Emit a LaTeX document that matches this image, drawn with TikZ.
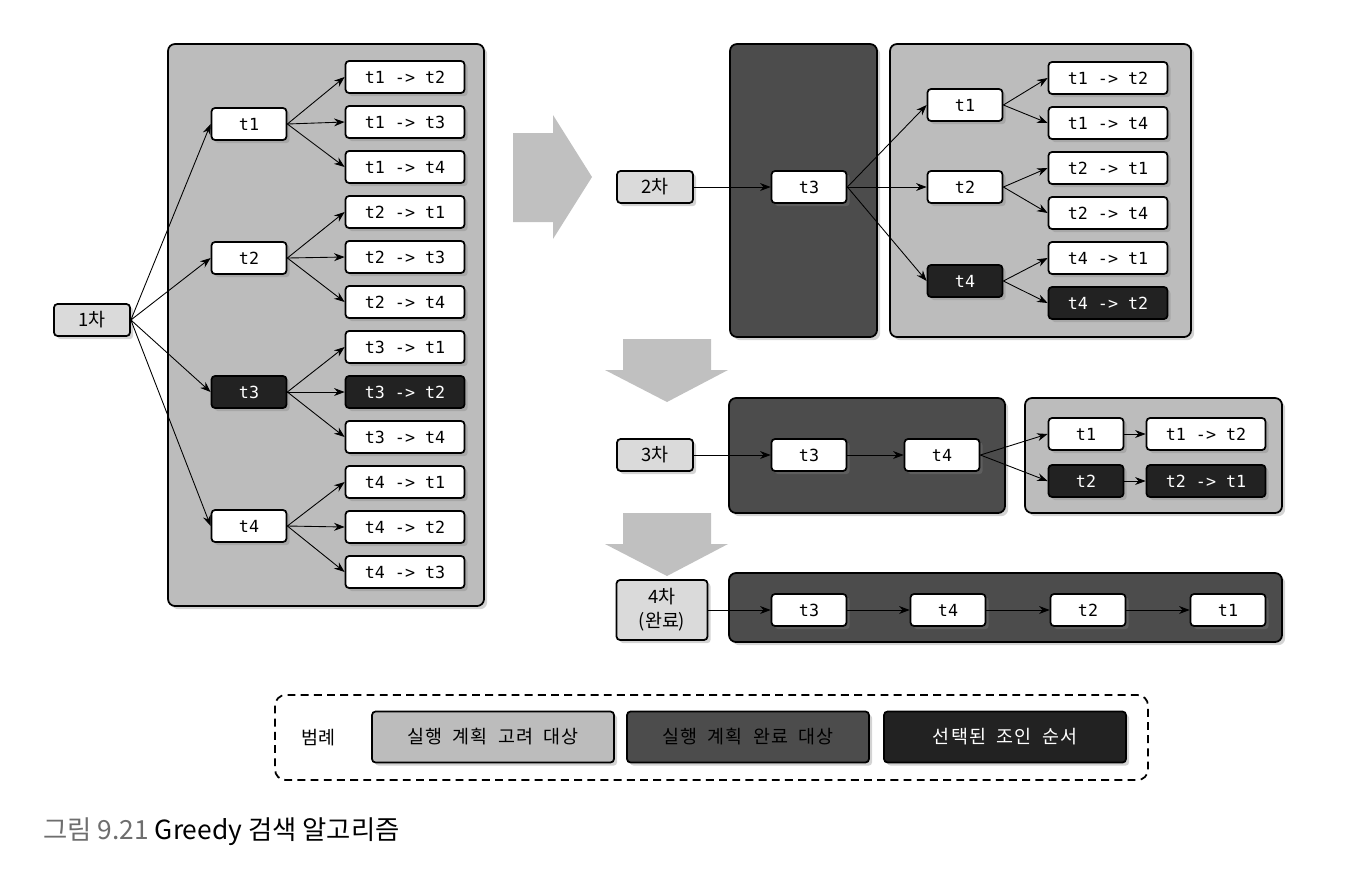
\documentclass[tikz,border=0pt]{standalone}
\usepackage{fontspec}
\setmainfont{Noto Sans CJK KR}
\setmonofont{DejaVu Sans Mono}
\newfontfamily\legendfont[LetterSpace=6,WordSpace=2]{Noto Sans CJK KR}
\usepackage{tikz}
\usetikzlibrary{arrows.meta,positioning,shadows}
\definecolor{consider}{RGB}{188,188,188}
\definecolor{done}{RGB}{76,76,76}
\definecolor{chosen}{RGB}{34,34,34}
\definecolor{stagefill}{RGB}{218,218,218}
\definecolor{bigarrow}{RGB}{192,192,192}
\definecolor{capgray}{RGB}{110,110,110}

\begin{document}
\begin{tikzpicture}[x=0.02cm,y=-0.02cm,font=\fontsize{10.5}{12}\selectfont,
  soft shadow/.style={drop shadow={shadow xshift=1.8pt,shadow yshift=-1.8pt,opacity=0.35}},
  panel/.style={draw=black,line width=1pt,rounded corners=4pt,soft shadow},
  tbox/.style={draw=black,line width=1pt,fill=white,rounded corners=2pt,inner sep=0pt,minimum width=1.5cm,minimum height=0.64cm,font=\ttfamily\fontsize{9.5}{11}\selectfont,soft shadow},
  leaf/.style={tbox,minimum width=2.38cm},
  stagebox/.style={tbox,fill=stagefill,minimum width=1.52cm,font=\fontsize{10.5}{13.5}\selectfont,align=center},
  legendbox/.style={tbox,minimum width=4.84cm,minimum height=1.02cm,font=\legendfont\fontsize{10.5}{12}\selectfont},
  link/.style={-{Stealth[length=6pt,width=4.5pt]},line width=0.5pt}]
\useasboundingbox (0,0) rectangle (1354,890);

\draw[panel,fill=consider] (168,44) rectangle (484,606);
\draw[panel,fill=done] (730,44) rectangle (877,337);
\draw[panel,fill=consider] (890,44) rectangle (1191,337);
\draw[panel,fill=done] (729,398) rectangle (1005,513);
\draw[panel,fill=consider] (1025,398) rectangle (1282,513);
\draw[panel,fill=done] (729,573) rectangle (1282,642);

\fill[bigarrow] (513,133) -- (553,133) -- (553,115) -- (592,177) -- (553,239) -- (553,222) -- (513,222) -- cycle;
\foreach \y in {339,513}
  \fill[bigarrow] (623,\y) -- (711,\y) -- (711,\y+31) -- (728,\y+31) -- (667,\y+63) -- (605,\y+31) -- (623,\y+31) -- cycle;

\node[stagebox] (s1) at (92,320) {1차};
\foreach \a/\y/\f/\t in {1/124/white/black,2/258/white/black,3/392/chosen/white,4/526/white/black}{
  \node[tbox,fill=\f,text=\t] (p\a) at (249,\y) {t\a};
  \draw[link] (s1.east) -- (p\a.west);
}
\foreach \a/\b/\y/\f/\t in {1/2/77/white/black,1/3/122/white/black,1/4/167/white/black,
    2/1/212/white/black,2/3/257/white/black,2/4/302/white/black,
    3/1/347/white/black,3/2/392/chosen/white,3/4/437/white/black,
    4/1/482/white/black,4/2/527/white/black,4/3/572/white/black}{
  \node[leaf,fill=\f,text=\t] (p\a\b) at (405,\y) {t\a{} -> t\b};
  \draw[link] (p\a.east) -- (p\a\b.west);
}

\node[stagebox] (s2) at (655,187) {2차};
\node[tbox] (q3) at (809,187) {t3};
\draw[link] (s2) -- (q3);
\foreach \a/\y/\f/\t in {1/105/white/black,2/187/white/black,4/281/chosen/white}{
  \node[tbox,fill=\f,text=\t] (q\a) at (965,\y) {t\a};
  \draw[link] (q3.east) -- (q\a.west);
}
\foreach \a/\b/\y/\f/\t in {1/2/78/white/black,1/4/123/white/black,2/1/168/white/black,
    2/4/213/white/black,4/1/258/white/black,4/2/303/chosen/white}{
  \node[leaf,fill=\f,text=\t] (q\a\b) at (1108,\y) {t\a{} -> t\b};
  \draw[link] (q\a.east) -- (q\a\b.west);
}

\node[stagebox] (s3) at (655,455) {3차};
\node[tbox] (r3) at (809,455) {t3};
\node[tbox] (r4) at (942,455) {t4};
\node[tbox] (r1) at (1086,434) {t1};
\node[tbox,fill=chosen,text=white] (r2) at (1086,481) {t2};
\node[leaf] (r12) at (1206,434) {t1 -> t2};
\node[leaf,fill=chosen,text=white] (r21) at (1206,481) {t2 -> t1};
\draw[link] (s3) -- (r3);
\draw[link] (r3) -- (r4);
\draw[link] (r4.east) -- (r1.west);
\draw[link] (r4.east) -- (r2.west);
\draw[link] (r1) -- (r12);
\draw[link] (r2) -- (r21);

\node[stagebox,minimum width=1.82cm,minimum height=1.2cm] (s4) at (662,610) {4차\\(완료)};
\foreach \a/\x in {3/809,4/948,2/1088,1/1228}
  \node[tbox] (u\a) at (\x,610) {t\a};
\draw[link] (s4) -- (u3);
\draw[link] (u3) -- (u4);
\draw[link] (u4) -- (u2);
\draw[link] (u2) -- (u1);

\draw[line width=1pt,dash pattern=on 4.5pt off 3pt,rounded corners=6pt] (275,695) rectangle (1148,780);
\node (lgd) at (318,738) {범례};
\node[legendbox,fill=consider] (lg1) at (493,737) {실행 계획 고려 대상};
\node[legendbox,fill=done,text=black] (lg2) at (748,737) {실행 계획 완료 대상};
\node[legendbox,fill=chosen,text=white] (lg3) at (1005,737) {선택된 조인 순서};

\node[anchor=west,inner sep=0pt,font=\fontsize{15}{17}\selectfont] (cap) at (43,832) {\textcolor{capgray}{그림 9.21} Greedy 검색 알고리즘};
\end{tikzpicture}
\end{document}
